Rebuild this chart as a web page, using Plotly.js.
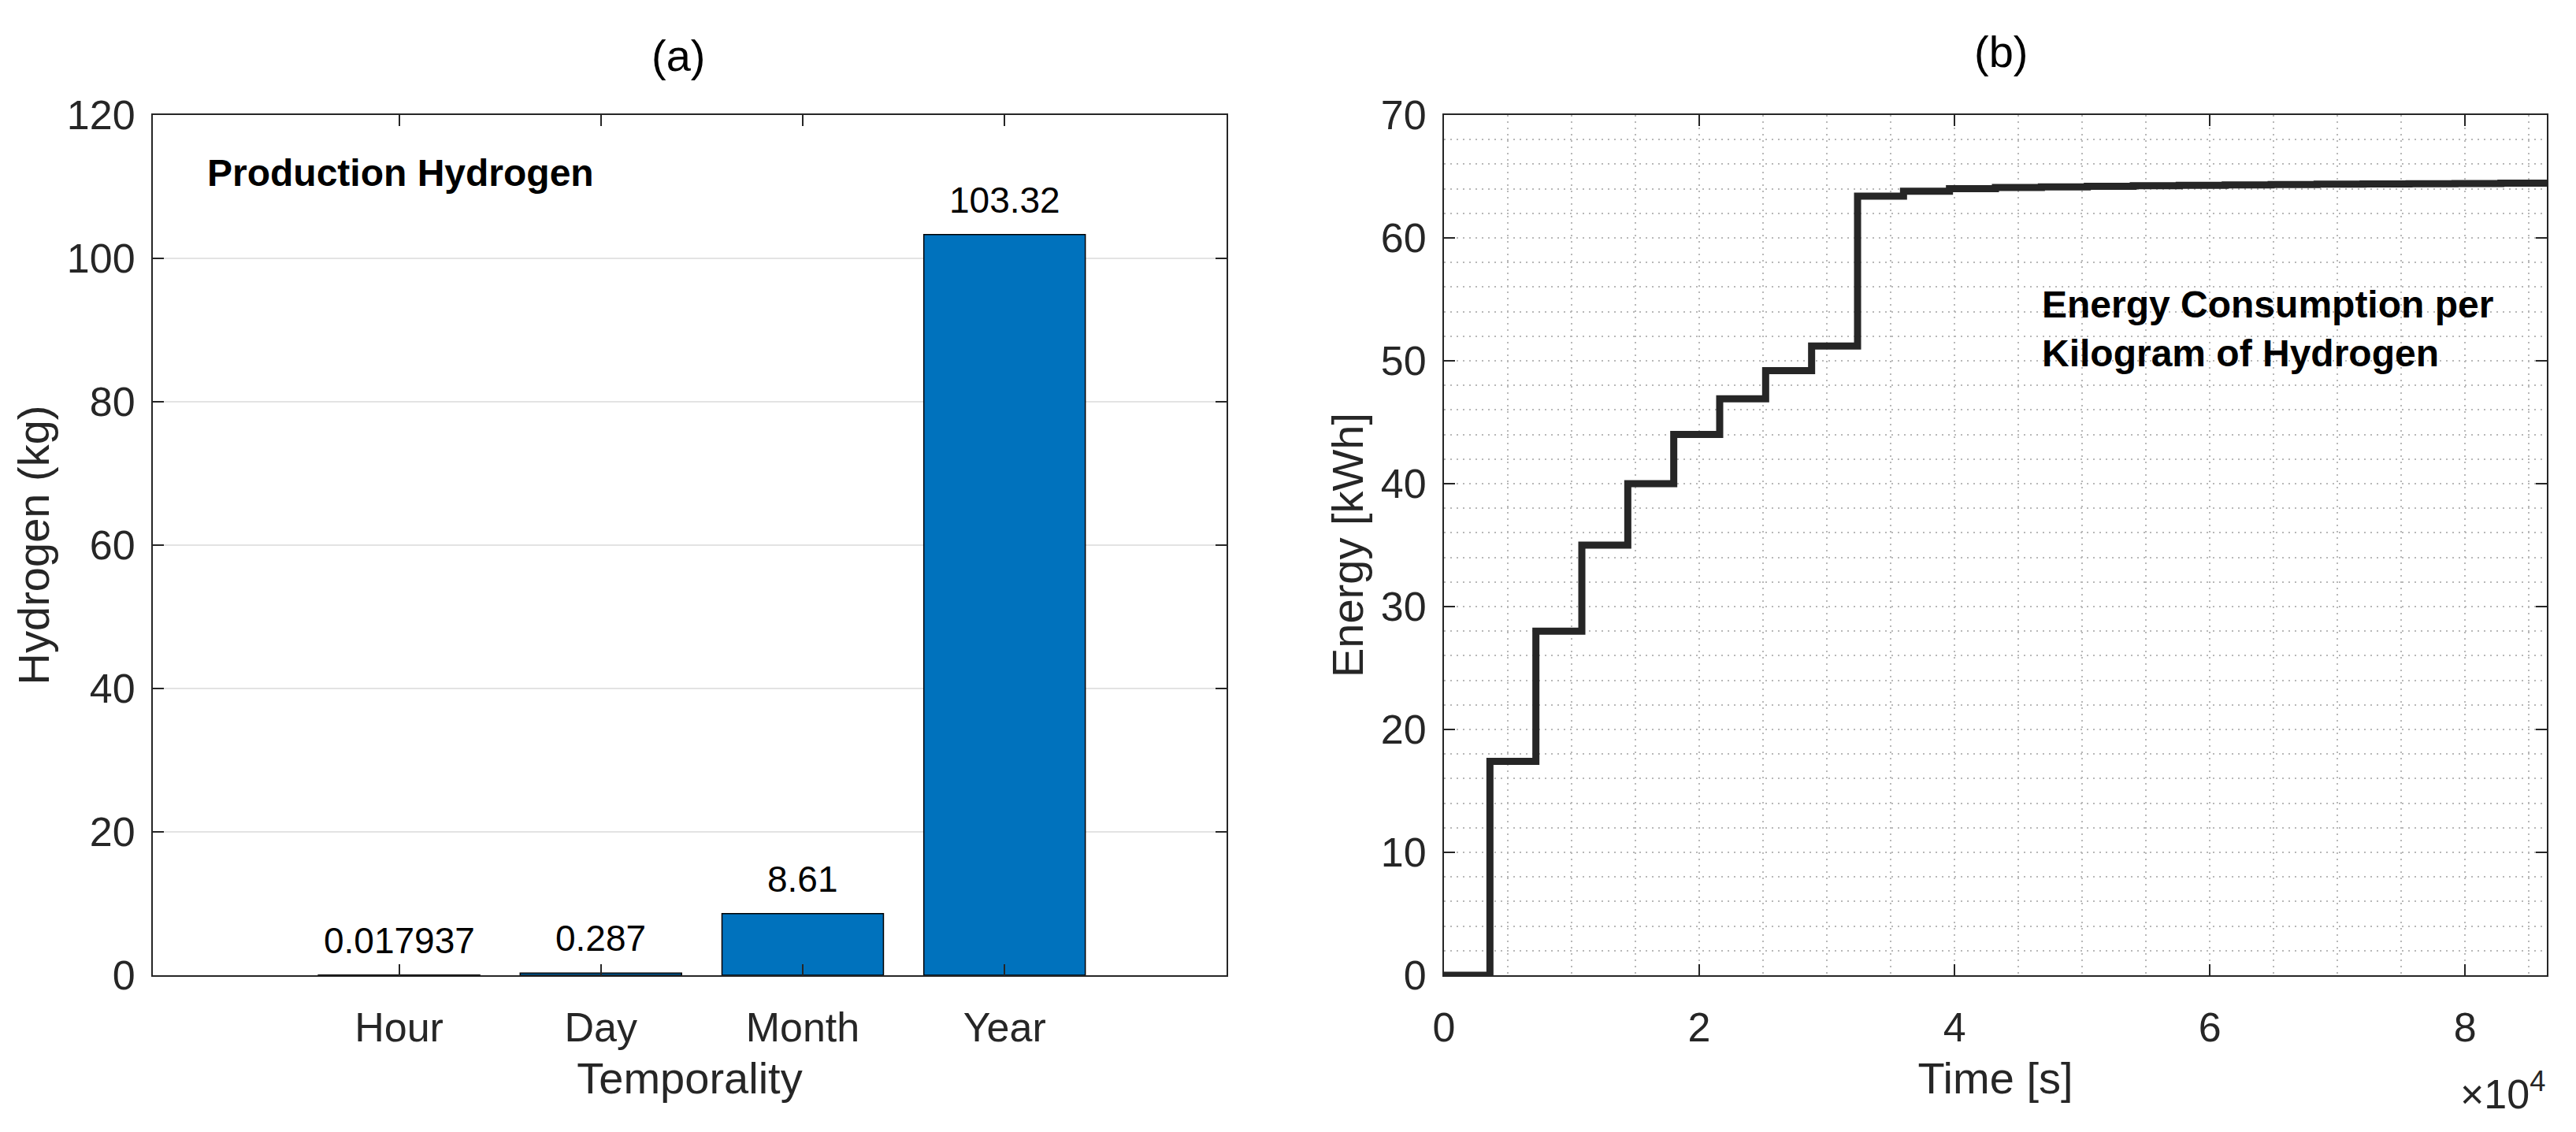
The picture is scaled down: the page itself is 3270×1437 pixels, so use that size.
<!DOCTYPE html>
<html>
<head>
<meta charset="utf-8">
<script src="https://cdn.plot.ly/plotly-3.0.1.min.js"></script>
<style>html,body{margin:0;padding:0;background:#fff;}#chart{width:3270px;height:1437px;}</style>
</head>
<body>
<div id="chart"></div>
<script>
// ---- Panel (a) data ----
const categories = ['Hour', 'Day', 'Month', 'Year'];
const hydrogenKg = [0.017937, 0.287, 8.61, 103.32];
const hydrogenLabels = ['0.017937', '0.287', '8.61', '103.32'];

// ---- Panel (b) data (step function, hourly steps) ----
const stepTimes = [0, 3600, 7200, 10800, 14400, 18000, 21600, 25200, 28800, 32400,
  36000, 39600, 43200, 46800, 50400, 54000, 57600, 61200, 64800, 68400,
  72000, 75600, 79200, 82800, 86400];
const energyKWh = [0, 17.4, 28.0, 35.0, 40.0, 44.0, 46.9, 49.2, 51.2, 63.4,
  63.8, 64.0, 64.1, 64.15, 64.2, 64.25, 64.28, 64.31, 64.34, 64.37,
  64.39, 64.41, 64.43, 64.45, 64.45];
const timeTickVals = [0, 20000, 40000, 60000, 80000];
const timeTickText = ['0', '2', '4', '6', '8'];

const FONT = 'Liberation Sans, Arial, Helvetica, sans-serif';
const AX = '#262626';
const TICK = 52, TITLE = 56;
const GRIDC = '#b8b8b8', GRIDDASH = '2px,6px';

const yDom = [0.1385, 0.8984];

const traces = [
  {
    type: 'bar', x: categories, y: hydrogenKg, xaxis: 'x', yaxis: 'y',
    width: 0.8,
    marker: {color: '#0072BD', line: {color: '#000000', width: 1.5}},
    hoverinfo: 'x+y'
  },
  {
    type: 'scatter', mode: 'lines', x: stepTimes, y: energyKWh, xaxis: 'x2', yaxis: 'y2',
    line: {shape: 'hv', color: '#262626', width: 9}
  }
];

const annotations = hydrogenKg.map((v, i) => ({
  x: categories[i], y: v, xref: 'x', yref: 'y', text: hydrogenLabels[i],
  showarrow: false, yanchor: 'bottom', xanchor: 'center', yshift: 16,
  font: {family: FONT, size: 46, color: '#000'}
}));

annotations.push(
  {x: 0.049, y: 0.933, xref: 'x domain', yref: 'y domain', text: '<b>Production Hydrogen</b>',
   showarrow: false, xanchor: 'left', yanchor: 'middle', font: {family: FONT, size: 48, color: '#000'}},
  {x: 0.541, y: 0.751, xref: 'x2 domain', yref: 'y2 domain',
   text: '<b>Energy Consumption per<br>Kilogram of Hydrogen</b>', align: 'left',
   showarrow: false, xanchor: 'left', yanchor: 'middle', font: {family: FONT, size: 48, color: '#000'}},
  {x: 861/3270, y: 1 - 70/1437, xref: 'paper', yref: 'paper', text: '(a)', showarrow: false,
   xanchor: 'center', yanchor: 'middle', font: {family: FONT, size: TITLE, color: '#000'}},
  {x: 2540/3270, y: 1 - 66/1437, xref: 'paper', yref: 'paper', text: '(b)', showarrow: false,
   xanchor: 'center', yanchor: 'middle', font: {family: FONT, size: TITLE, color: '#000'}},
  {x: 1, y: 1 - 1385/1437, xref: 'x2 domain', yref: 'paper', text: '×10<sup>4</sup>', showarrow: false,
   xanchor: 'right', yanchor: 'middle', font: {family: FONT, size: TICK, color: AX}}
);

const commonAxis = {
  ticks: 'inside', ticklen: 14, tickwidth: 2, tickcolor: AX,
  showline: true, linecolor: AX, linewidth: 2, mirror: 'ticks',
  zeroline: false, tickfont: {family: FONT, size: TICK, color: AX}
};

const layout = {
  width: 3270, height: 1437,
  margin: {l: 0, r: 0, t: 0, b: 0},
  paper_bgcolor: '#fff', plot_bgcolor: '#fff',
  showlegend: false,
  font: {family: FONT, color: AX},
  xaxis: Object.assign({}, commonAxis, {
    domain: [194/3270, 1557/3270], anchor: 'y', type: 'category',
    range: [-1.22, 4.1], showgrid: false, ticklabelstandoff: 20,
    title: {text: 'Temporality', font: {family: FONT, size: TITLE, color: AX}, standoff: 16}
  }),
  yaxis: Object.assign({}, commonAxis, {
    domain: yDom, anchor: 'x', range: [0, 120], dtick: 20,
    showgrid: true, gridcolor: '#e3e3e3', gridwidth: 2, ticklabelstandoff: 10,
    title: {text: 'Hydrogen (kg)', font: {family: FONT, size: TITLE, color: AX}, standoff: 4}
  }),
  xaxis2: Object.assign({}, commonAxis, {
    domain: [1833/3270, 3233/3270], anchor: 'y2', range: [0, 86400],
    tickmode: 'array', tickvals: timeTickVals, ticktext: timeTickText,
    showgrid: true, gridcolor: GRIDC, gridwidth: 2, griddash: GRIDDASH,
    minor: {dtick: 5000, tick0: 0, showgrid: true, gridcolor: GRIDC, gridwidth: 2, griddash: GRIDDASH},
    ticklabelstandoff: 20,
    title: {text: 'Time [s]', font: {family: FONT, size: TITLE, color: AX}, standoff: 16}
  }),
  yaxis2: Object.assign({}, commonAxis, {
    domain: yDom, anchor: 'x2', range: [0, 70], dtick: 10,
    showgrid: true, gridcolor: GRIDC, gridwidth: 2, griddash: GRIDDASH,
    minor: {dtick: 2, tick0: 0, showgrid: true, gridcolor: GRIDC, gridwidth: 2, griddash: GRIDDASH},
    ticklabelstandoff: 10,
    title: {text: 'Energy [kWh]', font: {family: FONT, size: TITLE, color: AX}, standoff: 4}
  }),
  annotations: annotations
};

Plotly.newPlot('chart', traces, layout, {displayModeBar: false, staticPlot: true});
</script>
</body>
</html>
